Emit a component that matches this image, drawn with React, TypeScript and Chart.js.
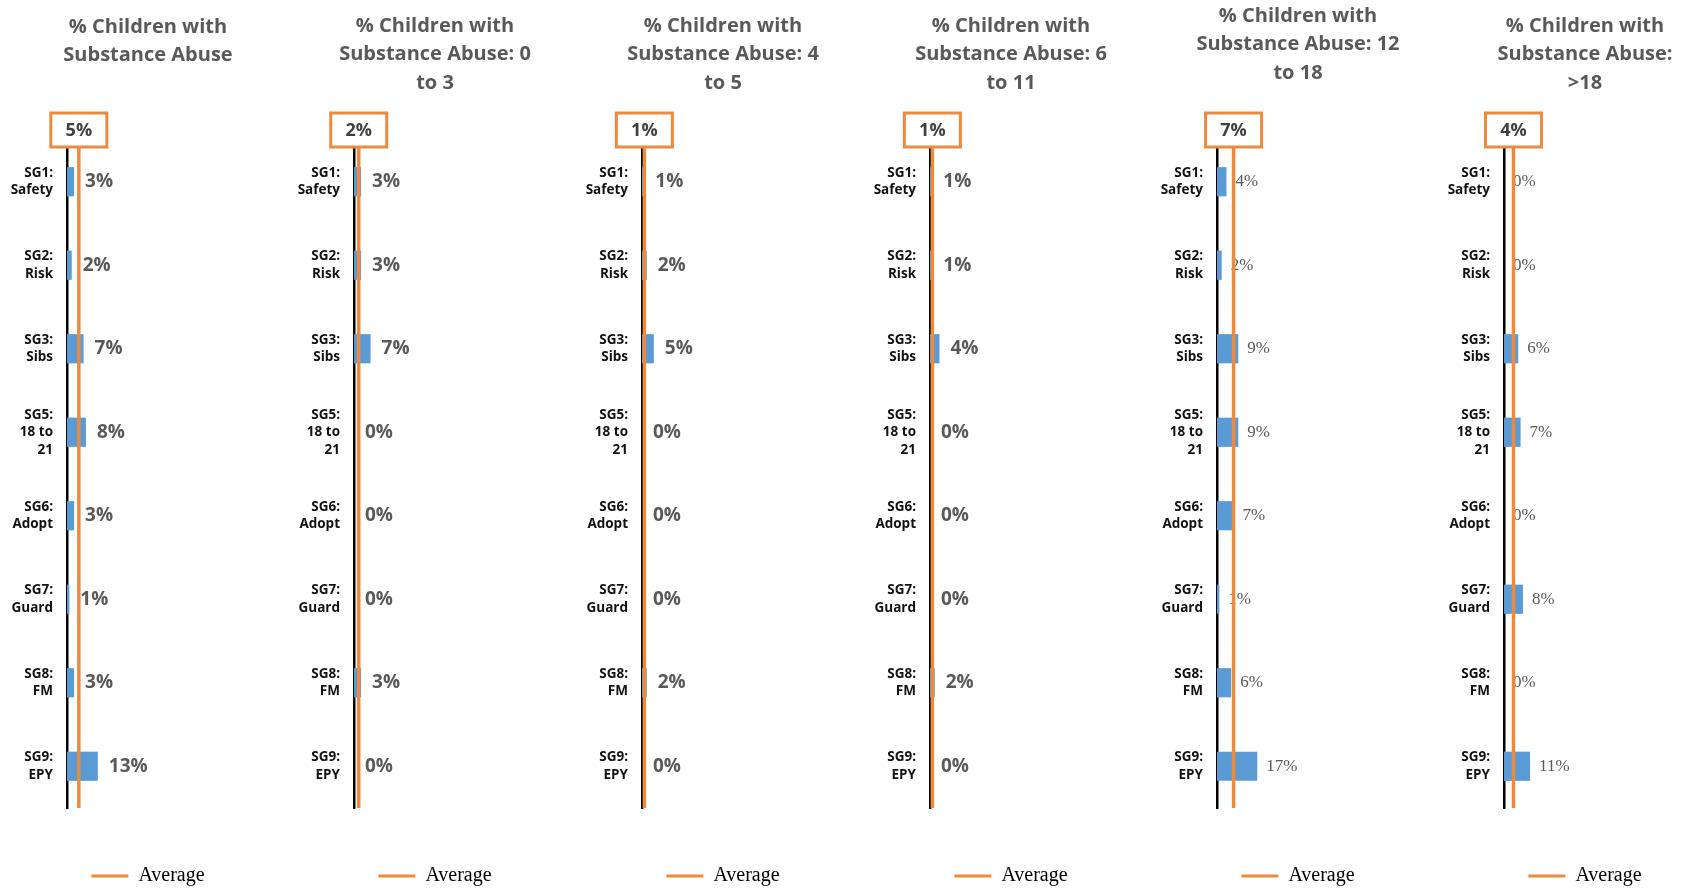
import React, { useEffect, useRef } from "react";
import { Chart, registerables } from "chart.js";

Chart.register(...registerables);

// Service-goal categories shown down the left of every panel
const groupLabels: string[][] = [
  ["SG1:", "Safety"],
  ["SG2:", "Risk"],
  ["SG3:", "Sibs"],
  ["SG5:", "18 to", "21"],
  ["SG6:", "Adopt"],
  ["SG7:", "Guard"],
  ["SG8:", "FM"],
  ["SG9:", "EPY"],
];

const panelTitles: string[][] = [
  ["% Children with", "Substance Abuse"],
  ["% Children with", "Substance Abuse: 0", "to 3"],
  ["% Children with", "Substance Abuse: 4", "to 5"],
  ["% Children with", "Substance Abuse: 6", "to 11"],
  ["% Children with", "Substance Abuse: 12", "to 18"],
  ["% Children with", "Substance Abuse:", ">18"],
];

// Percent of children with substance abuse, per service goal
const allAges = [3, 2, 7, 8, 3, 1, 3, 13];
const age0to3 = [3, 3, 7, 0, 0, 0, 3, 0];
const age4to5 = [1, 2, 5, 0, 0, 0, 2, 0];
const age6to11 = [1, 1, 4, 0, 0, 0, 2, 0];
const age12to18 = [4, 2, 9, 9, 7, 1, 6, 17];
const ageOver18 = [0, 0, 6, 7, 0, 8, 0, 11];

const panelValues = [allAges, age0to3, age4to5, age6to11, age12to18, ageOver18];
const averages = [5, 2, 1, 1, 7, 4];

const BLUE = "#5B9BD5";
const ORANGE = "#EC8A3E";
const SANS = "'Open Sans', sans-serif";
const SERIF = "'Liberation Serif', serif";

// Per-panel layout: left edge, title padding and value-label style
const panelLayout = [
  { left: 4, titleTop: 13, titleBottom: 70, serif: false },
  { left: 291, titleTop: 12, titleBottom: 42.5, serif: false },
  { left: 579, titleTop: 12, titleBottom: 42.5, serif: false },
  { left: 867, titleTop: 12, titleBottom: 42.5, serif: false },
  { left: 1154, titleTop: 2, titleBottom: 52.5, serif: true },
  { left: 1441, titleTop: 12, titleBottom: 42.5, serif: true },
];

const PANEL_W = 288;
const PANEL_H = 896;

// Percentage text next to each bar, drawn beneath the average line
const valueLabelPlugin = {
  id: "valueLabels",
  beforeDatasetsDraw(chart: any, _args: any, opts: any) {
    const meta = chart.getDatasetMeta(1);
    const data = chart.data.datasets[1].data as number[];
    const ctx = chart.ctx as CanvasRenderingContext2D;
    ctx.save();
    ctx.font = opts.font;
    ctx.fillStyle = opts.color;
    ctx.textAlign = "left";
    ctx.textBaseline = "middle";
    meta.data.forEach((bar: any, i: number) => {
      ctx.fillText(`${data[i]}%`, bar.x + opts.offset, bar.y);
    });
    ctx.restore();
  },
};

// Boxed average value capping the top of the average line
const averageBoxPlugin = {
  id: "averageBox",
  afterDatasetsDraw(chart: any, _args: any, opts: any) {
    const ctx = chart.ctx as CanvasRenderingContext2D;
    const x = chart.scales.x.getPixelForValue(opts.value);
    const w = 56;
    const h = 34;
    const top = chart.chartArea.top - 27;
    ctx.save();
    ctx.fillStyle = "#ffffff";
    ctx.fillRect(x - w / 2, top, w, h);
    ctx.strokeStyle = ORANGE;
    ctx.lineWidth = 3;
    ctx.strokeRect(x - w / 2, top, w, h);
    ctx.font = `bold 18px ${SANS}`;
    ctx.fillStyle = "#404040";
    ctx.textAlign = "center";
    ctx.textBaseline = "middle";
    ctx.fillText(`${opts.value}%`, x, top + h / 2 + 1);
    ctx.restore();
  },
};

function Panel({ index }: { index: number }) {
  const ref = useRef<HTMLCanvasElement | null>(null);

  useEffect(() => {
    if (!ref.current) return;
    const layout = panelLayout[index];
    const avg = averages[index];
    const chart = new Chart(ref.current, {
      type: "bar",
      data: {
        labels: groupLabels,
        datasets: [
          {
            type: "line",
            label: "Average",
            indexAxis: "y",
            yAxisID: "y2",
            data: [
              { x: avg, y: 0 },
              { x: avg, y: 1 },
            ],
            borderColor: ORANGE,
            backgroundColor: ORANGE,
            borderWidth: 3.5,
            pointRadius: 0,
            order: 0,
          } as any,
          {
            type: "bar",
            label: "Value",
            yAxisID: "y",
            data: panelValues[index],
            backgroundColor: BLUE,
            borderWidth: 0,
            grouped: false,
            barPercentage: 0.35,
            categoryPercentage: 1,
            order: 1,
          } as any,
        ],
      },
      options: {
        indexAxis: "y",
        responsive: false,
        animation: false,
        devicePixelRatio: 1,
        layout: { padding: 0 },
        scales: {
          x: { type: "linear", min: 0, max: 95, display: false },
          y: {
            type: "category",
            offset: true,
            grid: { display: false, drawTicks: false },
            border: { display: true, color: "#000000", width: 2.5 },
            ticks: {
              padding: 14,
              color: "#111111",
              font: { family: SANS, size: 13.5, weight: "bold", lineHeight: 1.3 },
            },
            afterFit: (scale: any) => {
              scale.width = 63;
            },
          },
          y2: {
            type: "linear",
            axis: "y",
            min: 0,
            max: 1,
            offset: false,
            display: false,
          },
        },
        plugins: {
          title: {
            display: true,
            text: panelTitles[index],
            color: "#595959",
            font: { family: SANS, size: 20, weight: "bold", lineHeight: 1.425 },
            padding: { top: layout.titleTop, bottom: layout.titleBottom },
          },
          legend: {
            display: true,
            position: "bottom",
            labels: {
              boxWidth: 37,
              boxHeight: 3,
              padding: 58,
              color: "#595959",
              font: { family: SERIF, size: 20 },
              generateLabels: () => [
                {
                  text: "Average",
                  fillStyle: ORANGE,
                  strokeStyle: ORANGE,
                  lineWidth: 0,
                  hidden: false,
                  datasetIndex: 0,
                } as any,
              ],
            },
          },
          tooltip: { enabled: false },
          valueLabels: {
            font: layout.serif ? `17px ${SERIF}` : `bold 19px ${SANS}`,
            color: "#595959",
            offset: layout.serif ? 9 : 11,
          },
          averageBox: { value: avg },
        } as any,
      },
      plugins: [valueLabelPlugin, averageBoxPlugin],
    });
    return () => chart.destroy();
  }, [index]);

  const layout = panelLayout[index];
  return (
    <div
      style={{
        position: "absolute",
        left: layout.left,
        top: 0,
        width: PANEL_W,
        height: PANEL_H,
      }}
    >
      <canvas
        ref={ref}
        width={PANEL_W}
        height={PANEL_H}
        style={{ width: PANEL_W, height: PANEL_H, display: "block" }}
      />
    </div>
  );
}

export default function App() {
  return (
    <div
      style={{
        position: "fixed",
        left: 0,
        top: 0,
        width: 1683,
        height: 889,
        overflow: "hidden",
        background: "#ffffff",
      }}
    >
      {panelTitles.map((_, i) => (
        <Panel key={i} index={i} />
      ))}
    </div>
  );
}
